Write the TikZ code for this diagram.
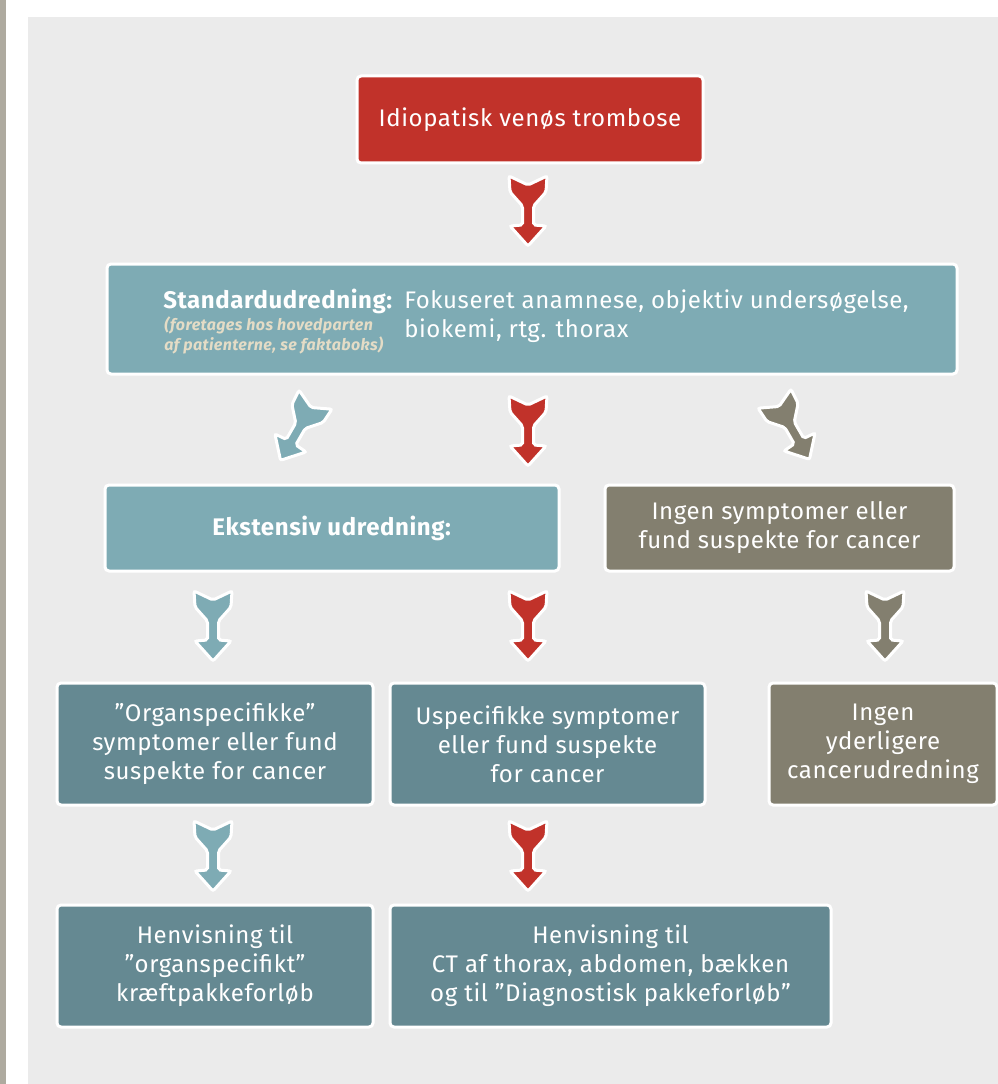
\documentclass[tikz,border=0pt]{standalone}
\usepackage{fontspec}
\setmainfont[LetterSpace=2.5]{Fira Sans}
\usetikzlibrary{calc}

\definecolor{trombred}{HTML}{C1322A}
\definecolor{lightteal}{HTML}{7EABB4}
\definecolor{darkteal}{HTML}{658992}
\definecolor{olivegray}{HTML}{837F6F}
\definecolor{panelgray}{HTML}{EBEBEB}
\definecolor{stripgray}{HTML}{AEAA9F}
\definecolor{notebeige}{HTML}{E4DCC6}

\tikzset{
    boxsize/.style 2 args={minimum width=#1*0.75pt, minimum height=#2*0.75pt},
    box/.style={rectangle, rounded corners=3pt, draw=white, line width=2.25pt,
        text=white, align=center, inner sep=0pt,
        font=\fontsize{18}{21.75}\selectfont},
    redbox/.style={box, fill=trombred},
    lightbox/.style={box, fill=lightteal},
    darkbox/.style={box, fill=darkteal},
    greybox/.style={box, fill=olivegray},
    plain/.style={inner sep=0pt, text=white, font=\fontsize{18}{21.75}\selectfont},
    note/.style={inner sep=0pt, text=notebeige, font=\fontsize{12}{15}\selectfont\bfseries\itshape},
    pics/blockarrow/.style={code={
        \draw[rounded corners=1.5pt, draw=white, line width=2.25pt, fill=#1]
            (-19,-35) -- (0,-26) -- (19,-35) -- (18,-19) -- (5.5,-5) -- (5.5,14)
            -- (18,15) -- (0,35) -- (-18,15) -- (-5.5,14) -- (-5.5,-5) -- (-18,-19) -- cycle;
    }}
}

\begin{document}
\begin{tikzpicture}[x=0.75pt, y=-0.75pt]
    % page and panel
    \fill[white] (0,0) rectangle (998,1084);
    \useasboundingbox (0,0) rectangle (998,1084);
    \fill[stripgray] (0,0) rectangle (6,1084);
    \fill[panelgray] (28,17) rectangle (998,1084);

    % Start
    \node[redbox, boxsize={346}{87}] (idio) at (530,119.5) {Idiopatisk venøs trombose};

    % Standard work-up
    \node[lightbox, boxsize={850}{110}] (standard) at (532,319) {};
    \node[plain, anchor=base west] (stdtitle) at (163,308) {\textbf{Standardudredning:}};
    \node[note, anchor=base west] (stdnote1) at (164,330) {(foretages hos hovedparten};
    \node[note, anchor=base west] (stdnote2) at (164,350) {af patienterne, se faktaboks)};
    \node[plain, anchor=base west] (stdtext1) at (404,308) {Fokuseret anamnese, objektiv undersøgelse,};
    \node[plain, anchor=base west] (stdtext2) at (404,337) {biokemi, rtg. thorax};

    % Second row
    \node[lightbox, boxsize={454}{86}] (ekstensiv) at (332,528) {\textbf{Ekstensiv udredning:}};
    \node[greybox, boxsize={349}{86}] (ingensym) at (779.5,528) {Ingen symptomer eller\\fund suspekte for cancer};

    % Third row
    \node[darkbox, boxsize={316}{122}] (organ) at (215,744) {”Organspecifikke”\\symptomer eller fund\\suspekte for cancer};
    \node[darkbox, boxsize={315}{122}] (uspec) at (547.5,744) {Uspecifikke symptomer\\eller fund suspekte\\for cancer};
    \node[greybox, boxsize={228}{122}] (ingenyder) at (883,744) {Ingen\\yderligere\\cancerudredning};

    % Referrals
    \node[darkbox, boxsize={316}{122}] (henorgan) at (215,966) {Henvisning til\\”organspecifikt”\\kræftpakkeforløb};
    \node[darkbox, boxsize={441}{122}] (henct) at (610.5,966) {Henvisning til\\CT af thorax, abdomen, bækken\\og til ”Diagnostisk pakkeforløb”};

    % Block arrows
    \pic at (528,211) {blockarrow=trombred};
    \pic at (528,431) {blockarrow=trombred};
    \pic[rotate=-30] at (298,430) {blockarrow=lightteal};
    \pic[rotate=30] at (792,429) {blockarrow=olivegray};
    \foreach \x/\c in {213/lightteal, 528/trombred, 885/olivegray}
        \pic at (\x,626) {blockarrow=\c};
    \foreach \x/\c in {213/lightteal, 528/trombred}
        \pic at (\x,856) {blockarrow=\c};
\end{tikzpicture}
\end{document}
